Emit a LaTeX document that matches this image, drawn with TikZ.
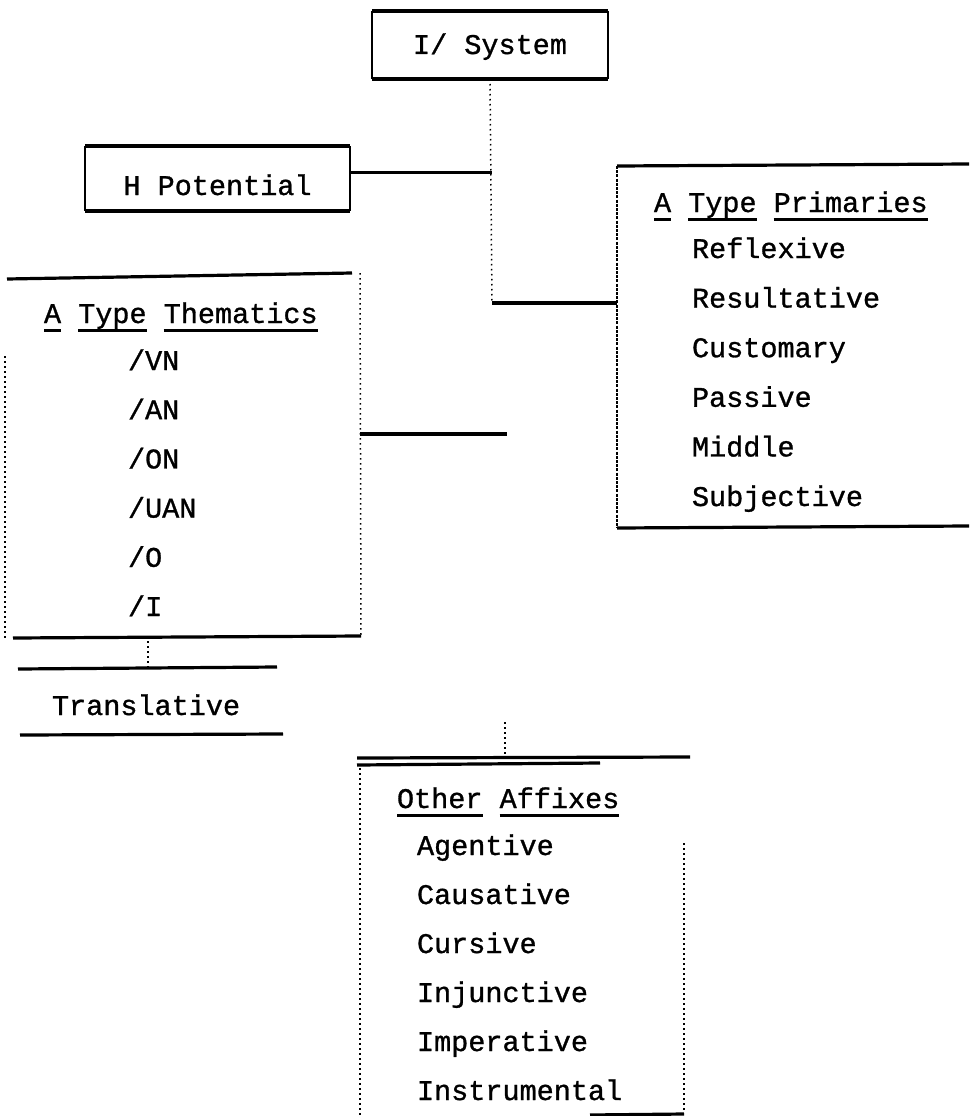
\documentclass[tikz,border=0pt]{standalone}
\usepackage{fontspec}
\setmonofont{Liberation Mono}[FakeBold=1]
\usetikzlibrary{positioning}
\newcommand{\typeul}[1]{\setbox0\hbox{#1}\rlap{\rule[-9pt]{\wd0}{2.6pt}}\box0\relax}

\tikzset{
  boxtext/.style={inner sep=0pt, outer sep=0pt, text depth=0pt},
  typed/.style={inner sep=0pt, outer sep=0pt, anchor=base west},
  hline/.style={line width=3.2pt},
  sideline/.style={line width=1.4pt},
  colonline/.style={line width=1.8pt, dash pattern=on 3pt off 1.2pt},
  dotline/.style={line width=1.5pt, dash pattern=on 1.5pt off 3.5pt},
}

\begin{document}
\begin{tikzpicture}[x=1pt, y=-1pt, font=\ttfamily\fontsize{28.5}{34}\selectfont]
  \useasboundingbox (0,0) rectangle (969,1116);

  % top boxes
  \node[boxtext, minimum width=236pt, minimum height=68pt, text height=18pt] (system) at (490,45) {I/ System};
  \draw[hline] (system.north west) -- (system.north east) (system.south west) -- (system.south east);
  \draw[sideline] (system.north west) -- (system.south west) (system.north east) -- (system.south east);

  \node[boxtext, minimum width=265pt, minimum height=65pt, text height=33pt] (potential) at (217.5,178.5) {H Potential};
  \draw[hline] (potential.north west) -- (potential.north east) (potential.south west) -- (potential.south east);
  \draw[sideline] (potential.north west) -- (potential.south west) (potential.north east) -- (potential.south east);

  \coordinate (spine) at (492,303);
  \draw[dotline] (system.south) -- (spine);
  \draw[hline] ([yshift=6pt]potential.east) -- ([yshift=6pt]potential.east -| spine);

  % primaries
  \coordinate (primnw) at (617,166);
  \coordinate (primsw) at (617,528);
  \draw[hline] (primnw) -- (969,164);
  \draw[hline] (primsw) -- (969,526);
  \draw[colonline] (primnw) -- (primsw);
  \node[typed] (primaries) at (654,212) {\typeul{A} \typeul{Type} \typeul{Primaries}};
  \foreach \word [count=\i] in {Reflexive,Resultative,Customary,Passive,Middle,Subjective}
    \node[typed] (prim\i) at (692,{258+49.6*(\i-1)}) {\word};
  \draw[hline] (spine) -- (spine -| primnw);

  % thematics
  \coordinate (themne) at (360,273);
  \coordinate (themse) at (361,636);
  \draw[hline] (7,279) -- (352,273);
  \draw[dotline] (themne) -- (themse);
  \draw[dotline] (5,356) -- (5,640);
  \draw[hline] (13,638) -- (themse);
  \node[typed] (thematics) at (44,323) {\typeul{A} \typeul{Type} \typeul{Thematics}};
  \foreach \word [count=\i] in {VN,AN,ON,UAN,O,I}
    \node[typed] (them\i) at (128,{370+49.2*(\i-1)}) {/\word};
  \coordinate (hub) at (507,434);
  \draw[hline] (hub -| themne) -- (hub);

  % translative
  \node[typed] (translative) at (52,715) {Translative};
  \coordinate (transtop) at (148,668);
  \draw[hline] (18,669) -- (277,667);
  \draw[hline] (20,735) -- (283,734);
  \draw[dotline] (transtop |- themse) -- (transtop);

  % other affixes
  \coordinate (affixnw) at (357,758);
  \draw[hline] (affixnw) -- (690,757);
  \draw[hline] (357,765) -- (600,763);
  \draw[dotline] (360,768) -- (360,1116);
  \draw[dotline] (684,843) -- (684,1113);
  \draw[hline] (590,1115) -- (684,1114);
  \node[typed] (affixes) at (397,808) {\typeul{Other} \typeul{Affixes}};
  \foreach \word [count=\i] in {Agentive,Causative,Cursive,Injunctive,Imperative,Instrumental}
    \node[typed] (affix\i) at (417,{855+49*(\i-1)}) {\word};
  \coordinate (stub) at (505,722);
  \draw[dotline] (stub) -- (stub |- affixnw);
\end{tikzpicture}
\end{document}
